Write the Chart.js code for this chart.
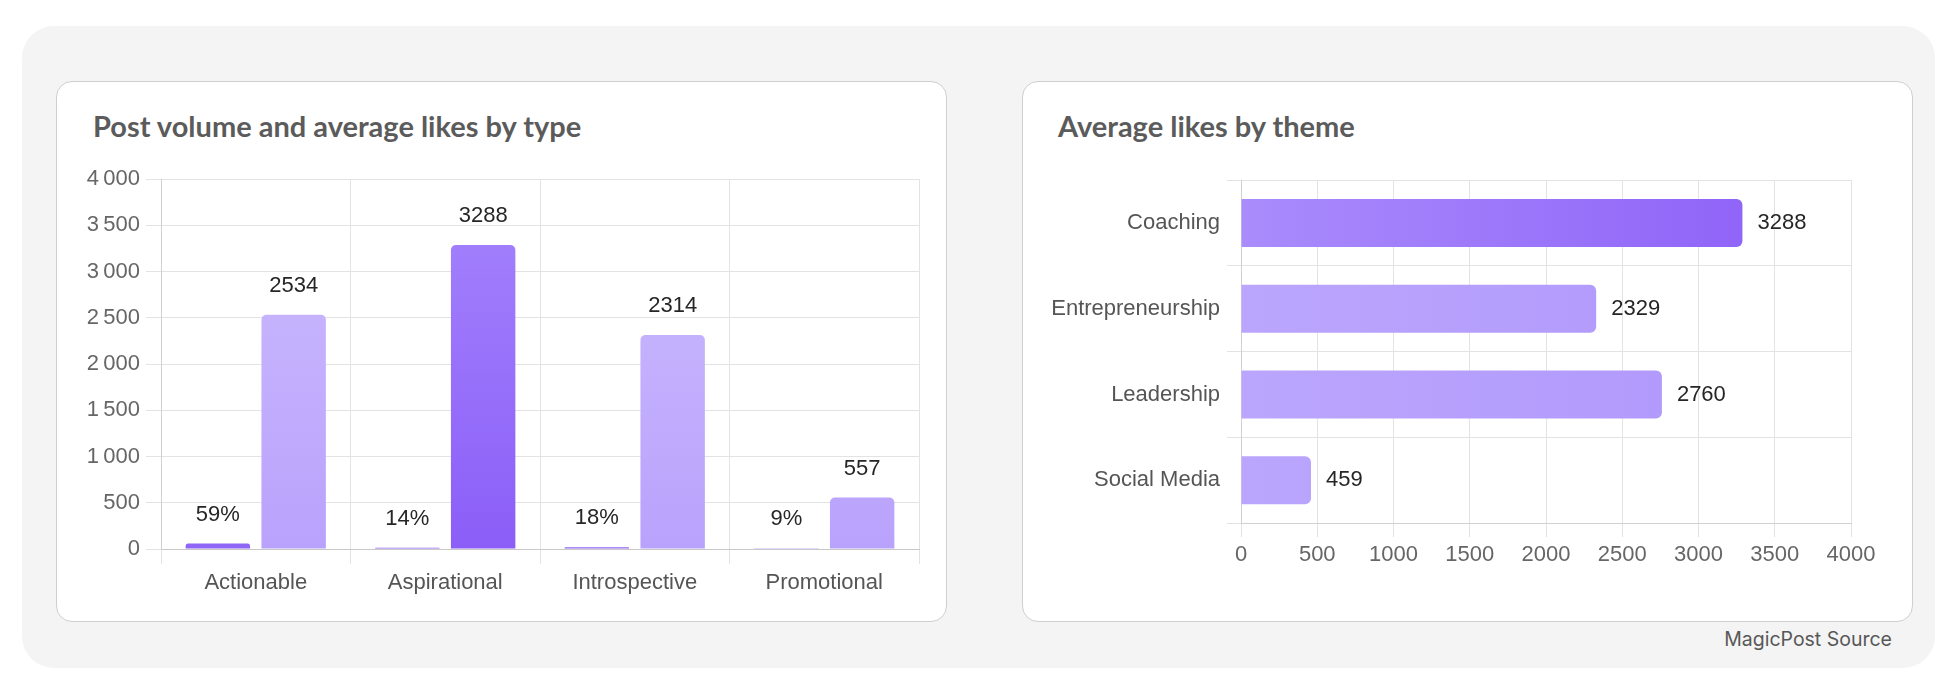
<!DOCTYPE html>
<html lang="en">
<head>
    <meta charset="UTF-8">
    <title>Post volume and likes</title>
    <script src="https://cdn.jsdelivr.net/npm/chart.js"></script>
    <style>
        html, body { margin: 0; padding: 0; background: #fff; }
        body { width: 1960px; height: 688px; position: relative; overflow: hidden; font-family: "Liberation Sans", Arial, sans-serif; }
        .panel { position: absolute; left: 22px; top: 26px; width: 1913px; height: 642px; background: #f4f4f4; border-radius: 32px; }
        .card { position: absolute; top: 81px; width: 889px; height: 539px; background: #fff; border: 1.5px solid #cfcfcf; border-radius: 16px; }
        .title { position: absolute; top: 109px; line-height: 34px; font-family: Lato, sans-serif; font-weight: 700; font-size: 29px; color: #5b5b5b; white-space: nowrap; }
        canvas { position: absolute; }
        .source { position: absolute; right: 68px; top: 627px; font-family: Inter, sans-serif; font-size: 19.5px; color: #585858; }
    </style>
</head>
<body>
    <div class="panel"></div>
    <div class="card" style="left:56px"></div>
    <div class="card" style="left:1022px"></div>
    <div class="title" style="left:93px">Post volume and average likes by type</div>
    <div class="title" style="left:1058px">Average likes by theme</div>
    <canvas id="typeChart" width="880" height="440" style="left:60px;top:160px"></canvas>
    <canvas id="themeChart" width="860" height="440" style="left:1040px;top:160px"></canvas>
    <div class="source">MagicPost Source</div>

    <script>
        // Left chart: post types
        const postTypes = ['Actionable', 'Aspirational', 'Introspective', 'Promotional'];
        const postShare = [59, 14, 18, 9];            // % of posts
        const avgLikesByType = [2534, 3288, 2314, 557];
        const likesTicks = ['0', '500', '1\u2009000', '1\u2009500', '2\u2009000', '2\u2009500', '3\u2009000', '3\u2009500', '4\u2009000'];

        // Right chart: themes
        const themes = ['Coaching', 'Entrepreneurship', 'Leadership', 'Social Media'];
        const avgLikesByTheme = [3288, 2329, 2760, 459];
        const themeTicks = ['0', '500', '1000', '1500', '2000', '2500', '3000', '3500', '4000'];

        const labelFont = '22px "Liberation Sans", Arial, sans-serif';

        function verticalGradient(ctx, area, top, bottom) {
            const g = ctx.createLinearGradient(0, area.top, 0, area.bottom);
            g.addColorStop(0, top);
            g.addColorStop(1, bottom);
            return g;
        }
        function horizontalGradient(ctx, area, left, right) {
            const g = ctx.createLinearGradient(area.left, 0, area.right, 0);
            g.addColorStop(0, left);
            g.addColorStop(1, right);
            return g;
        }

        // draws the value labels next to each bar
        const valueLabels = {
            id: 'valueLabels',
            afterDatasetsDraw(chart, args, opts) {
                const ctx = chart.ctx;
                ctx.save();
                ctx.font = labelFont;
                ctx.fillStyle = '#262626';
                chart.data.datasets.forEach((ds, i) => {
                    chart.getDatasetMeta(i).data.forEach((bar, j) => {
                        const text = opts.format(ds.data[j], i);
                        if (opts.horizontal) {
                            ctx.textAlign = 'left';
                            ctx.textBaseline = 'middle';
                            ctx.fillText(text, bar.x + 15, bar.y);
                        } else {
                            ctx.textAlign = 'center';
                            ctx.textBaseline = 'middle';
                            ctx.fillText(text, bar.x, bar.y - 29);
                        }
                    });
                });
                ctx.restore();
            }
        };

        const tickFont = { family: '"Liberation Sans", Arial, sans-serif', size: 22 };

        new Chart(document.getElementById('typeChart'), {
            type: 'bar',
            data: {
                labels: postTypes,
                datasets: [{
                    label: 'Post volume',
                    data: postShare,
                    backgroundColor: '#8f66f6',
                    borderRadius: 5,
                    categoryPercentage: 0.8,
                    barPercentage: 0.85
                }, {
                    label: 'Average likes',
                    data: avgLikesByType,
                    backgroundColor: (c) => {
                        const area = c.chart.chartArea;
                        if (!area) return '#c0abfd';
                        if (c.dataIndex === 1) return verticalGradient(c.chart.ctx, area, '#a585fc', '#8b5ef8');
                        return verticalGradient(c.chart.ctx, area, '#cdbdfe', '#b9a2fc');
                    },
                    borderRadius: 5,
                    categoryPercentage: 0.8,
                    barPercentage: 0.85
                }]
            },
            options: {
                responsive: false,
                animation: false,
                layout: { padding: { top: 18, right: 21, left: 0, bottom: 0 } },
                plugins: {
                    legend: { display: false },
                    tooltip: { enabled: false },
                    valueLabels: { format: (v, i) => i === 0 ? v + '%' : String(v) }
                },
                scales: {
                    x: {
                        afterFit: (s) => { s.height = 51; },
                        grid: { color: '#e3e3e3', tickLength: 15 },
                        border: { color: '#c8c8c8' },
                        ticks: { font: tickFont, color: '#555', padding: 6 }
                    },
                    y: {
                        min: 0, max: 4000,
                        afterFit: (s) => { s.width = 101; },
                        grid: { color: '#e3e3e3', tickLength: 15 },
                        border: { color: '#d0d0d0' },
                        ticks: {
                            stepSize: 500,
                            font: tickFont, color: '#666', padding: 6,
                            callback: (v, i) => likesTicks[i]
                        }
                    }
                }
            },
            plugins: [valueLabels]
        });

        new Chart(document.getElementById('themeChart'), {
            type: 'bar',
            data: {
                labels: themes,
                datasets: [{
                    label: 'Average likes',
                    data: avgLikesByTheme,
                    backgroundColor: (c) => {
                        const area = c.chart.chartArea;
                        if (!area) return '#b6a0fc';
                        if (c.dataIndex === 0) return horizontalGradient(c.chart.ctx, area, '#aa8cfc', '#8a5cf7');
                        return horizontalGradient(c.chart.ctx, area, '#bba6fd', '#ad95fb');
                    },
                    borderRadius: 6,
                    categoryPercentage: 0.8,
                    barPercentage: 0.7
                }]
            },
            options: {
                indexAxis: 'y',
                responsive: false,
                animation: false,
                layout: { padding: { top: 18, right: 49, left: 0, bottom: 0 } },
                plugins: {
                    legend: { display: false },
                    tooltip: { enabled: false },
                    valueLabels: { horizontal: true, format: (v) => String(v) }
                },
                scales: {
                    x: {
                        min: 0, max: 4000,
                        afterFit: (s) => { s.height = 77; },
                        grid: { color: '#e3e3e3', tickLength: 14 },
                        border: { color: '#d0d0d0' },
                        ticks: {
                            stepSize: 500,
                            font: tickFont, color: '#666', padding: 5,
                            callback: (v, i) => themeTicks[i]
                        }
                    },
                    y: {
                        afterFit: (s) => { s.width = 201; },
                        grid: { color: '#e3e3e3', tickLength: 14 },
                        border: { color: '#d0d0d0' },
                        ticks: { font: tickFont, color: '#555', padding: 7 }
                    }
                }
            },
            plugins: [valueLabels]
        });
    </script>
</body>
</html>
